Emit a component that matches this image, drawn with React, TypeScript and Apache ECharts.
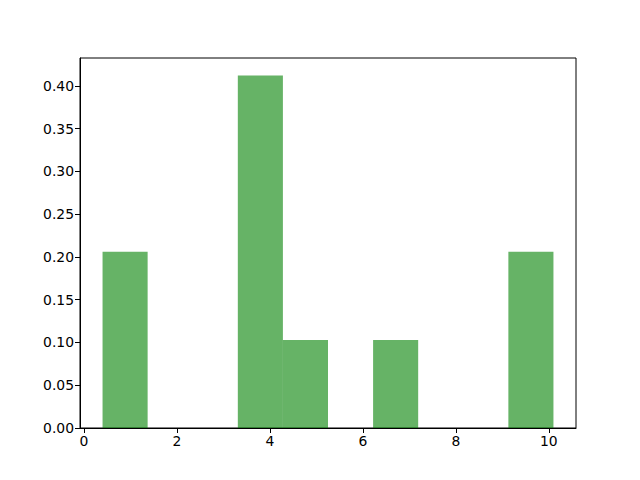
import React, { useEffect, useRef } from "react";
import * as echarts from "echarts";

const binEdges = [0.4, 1.37, 2.34, 3.31, 4.28, 5.25, 6.22, 7.19, 8.16, 9.13, 10.1];
const densities = [0.206, 0, 0, 0.412, 0.103, 0, 0.103, 0, 0, 0.206];
const xTicks = [0, 2, 4, 6, 8, 10];
const yTicks = [0, 0.05, 0.1, 0.15, 0.2, 0.25, 0.3, 0.35, 0.4];

export default function App() {
  const ref = useRef<HTMLDivElement>(null);
  useEffect(() => {
    document.body.style.margin = "0";
    const chart = echarts.init(ref.current!, null, { renderer: "svg" });
    const data = densities.map((d, i) => [binEdges[i], binEdges[i + 1], d]);
    const span = binEdges[binEdges.length - 1] - binEdges[0];
    const xMin = binEdges[0] - span * 0.05;
    const xMax = binEdges[binEdges.length - 1] + span * 0.05;
    const yMax = Math.max(...densities) * 1.05;
    const font = { fontFamily: "DejaVu Sans", fontSize: 13.9, color: "#000" };
    chart.setOption({
      animation: false,
      backgroundColor: "#fff",
      grid: { left: 80, right: 64, top: 58, bottom: 52, show: true, borderColor: "#000", borderWidth: 1, backgroundColor: "transparent" },
      xAxis: {
        type: "value",
        min: xMin,
        max: xMax,
        splitLine: { show: false },
        axisLine: { show: true, onZero: false, lineStyle: { color: "#000" } },
        axisTick: { show: true, length: 5, lineStyle: { color: "#000" }, customValues: xTicks },
        axisLabel: { ...font, margin: 6, customValues: xTicks, formatter: (v: number) => String(Math.round(v)) },
      },
      yAxis: {
        type: "value",
        min: 0,
        max: yMax,
        splitLine: { show: false },
        axisLine: { show: true, onZero: false, lineStyle: { color: "#000" } },
        axisTick: { show: true, length: 5, lineStyle: { color: "#000" }, customValues: yTicks },
        axisLabel: { ...font, margin: 6, customValues: yTicks, formatter: (v: number) => v.toFixed(2) },
      },
      series: [
        {
          type: "custom",
          data,
          encode: { x: [0, 1], y: 2 },
          renderItem: (params: any, api: any) => {
            const p0 = api.coord([api.value(0), api.value(2)]);
            const p1 = api.coord([api.value(1), 0]);
            return {
              type: "rect",
              shape: { x: p0[0], y: p0[1], width: p1[0] - p0[0], height: p1[1] - p0[1] },
              style: { fill: "rgba(0,128,0,0.6)" },
            };
          },
        },
      ],
    });
    return () => chart.dispose();
  }, []);
  return <div ref={ref} style={{ width: 640, height: 480, position: "absolute", left: 0, top: 0 }} />;
}
